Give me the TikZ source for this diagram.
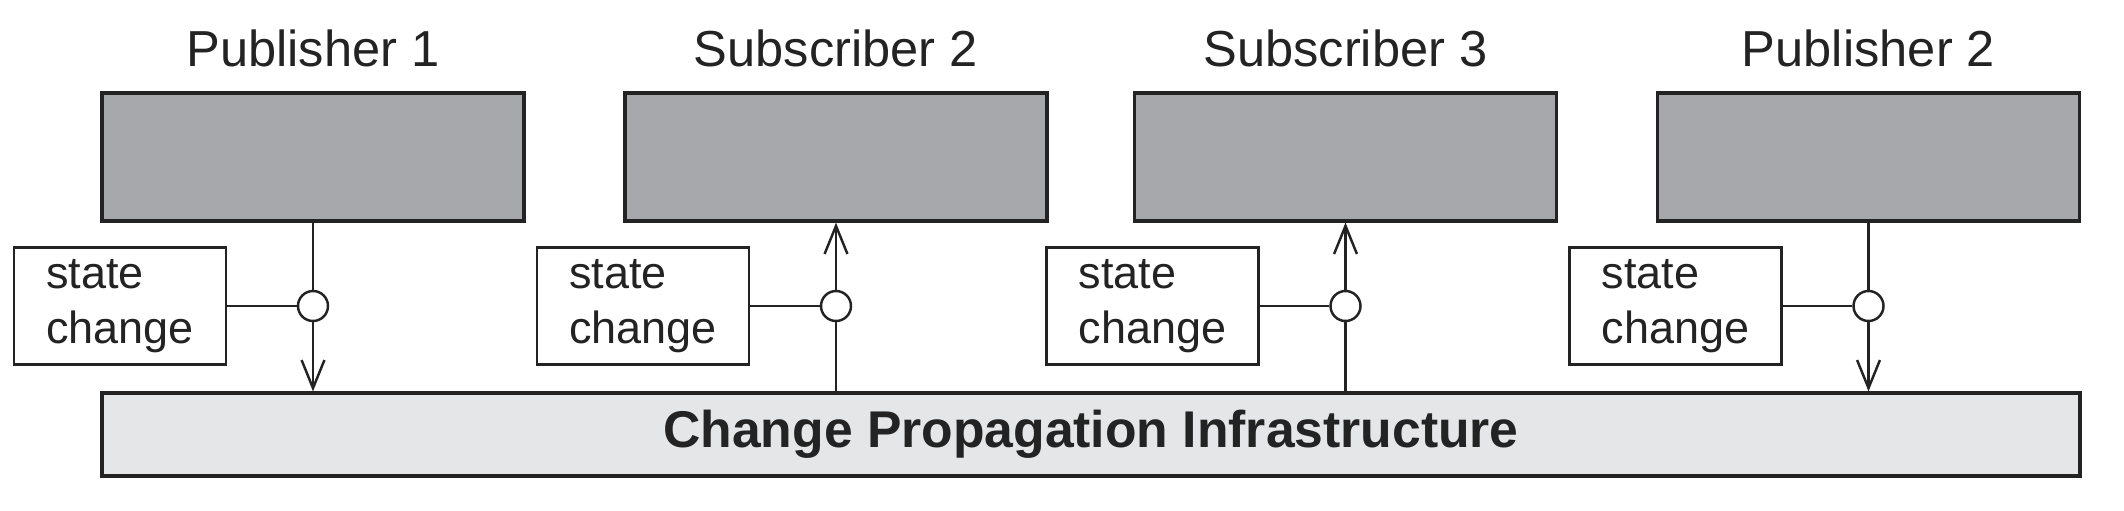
\documentclass[tikz,border=0pt]{standalone}
\usepackage{fontspec}
\setmainfont{Liberation Sans}
\usetikzlibrary{arrows.meta}
\definecolor{boxgray}{RGB}{167,168,171}
\definecolor{barfill}{RGB}{229,230,232}
\definecolor{ink}{RGB}{35,35,35}
\begin{document}
\begin{tikzpicture}[auto,node distance=5.23cm,color=ink,line width=0.7pt,>={Straight Barb[length=8pt,width=6.5pt]}]
    \tikzstyle{block} = [draw,rectangle,fill=boxgray,minimum width=4.22cm,minimum height=1.28cm,line width=0.9pt]
    \tikzstyle{heading} = [anchor=base,font=\fontsize{14.4}{17}\selectfont]
    \tikzstyle{note} = [draw,rectangle,fill=white,align=left,minimum width=2.12cm,minimum height=1.11cm,font=\fontsize{12.8}{15.6}\selectfont]
    \tikzstyle{tap} = [draw,circle,fill=white,minimum size=0.3cm,inner sep=0pt]
    \tikzstyle{bus} = [draw,rectangle,fill=barfill,minimum width=19.78cm,minimum height=0.83cm,line width=0.9pt,font=\fontsize{14.7}{17}\selectfont\bfseries]
    \useasboundingbox (0,0) rectangle (21.24,5.10);

    \node [block] at (3.13,3.53) (pub1) {};
    \node [block,right of=pub1] (sub2) {};
    \node [block,right of=sub2,node distance=5.095cm] (sub3) {};
    \node [block,right of=sub3] (pub2) {};
    \node [heading] at ([yshift=0.25cm]pub1.north) (t1) {Publisher 1};
    \node [heading] at ([yshift=0.25cm]sub2.north) (t2) {Subscriber 2};
    \node [heading] at ([yshift=0.25cm]sub3.north) (t3) {Subscriber 3};
    \node [heading] at ([yshift=0.25cm]pub2.north) (t4) {Publisher 2};
    \node [bus] at (10.91,0.755) (infra) {Change Propagation Infrastructure};

    \node [tap,below of=pub1,node distance=1.49cm] (c1) {};
    \node [tap,below of=sub2,node distance=1.49cm] (c2) {};
    \node [tap,below of=sub3,node distance=1.49cm] (c3) {};
    \node [tap,below of=pub2,node distance=1.49cm] (c4) {};
    \node [note,left of=c1,node distance=1.93cm] (s1) {state\\change};
    \node [note,left of=c2,node distance=1.93cm] (s2) {state\\change};
    \node [note,left of=c3,node distance=1.93cm] (s3) {state\\change};
    \node [note,left of=c4,node distance=1.93cm] (s4) {state\\change};

    % publishers push down
    \draw (pub1) -- (c1);
    \draw [->] (c1) -- (c1|-infra.north);
    \draw (pub2) -- (c4);
    \draw [->] (c4) -- (c4|-infra.north);
    % subscribers get updates
    \draw (c2|-infra.north) -- (c2);
    \draw [->] (c2) -- (sub2);
    \draw (c3|-infra.north) -- (c3);
    \draw [->] (c3) -- (sub3);

    \draw (s1) -- (c1);
    \draw (s2) -- (c2);
    \draw (s3) -- (c3);
    \draw (s4) -- (c4);
\end{tikzpicture}
\end{document}
